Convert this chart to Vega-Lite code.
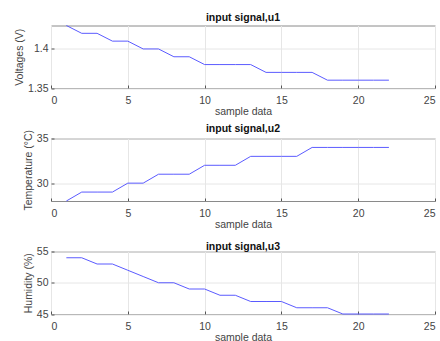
{
  "$schema": "https://vega.github.io/schema/vega-lite/v6.json",
  "background": "white",
  "padding": {"left": 14, "top": 11.5, "right": 6, "bottom": 0},
  "bounds": "flush",
  "spacing": 50,
  "config": {
    "font": "Liberation Sans",
    "view": {"stroke": "#8a8a8a", "strokeWidth": 1},
    "title": {"fontSize": 10.5, "fontWeight": "bold", "color": "#111111", "anchor": "middle", "frame": "group"},
    "axis": {
      "labelFont": "Liberation Sans",
      "labelFontSize": 10.5,
      "labelColor": "#444444",
      "titleFont": "Liberation Sans",
      "titleFontSize": 10.5,
      "titleFontWeight": "normal",
      "titleColor": "#444444",
      "domain": false,
      "tickColor": "#555555",
      "tickSize": -3,
      "gridColor": "#e6e6e6",
      "gridWidth": 1
    },
    "axisX": {"labelPadding": 10, "titlePadding": 0.5},
    "axisY": {"labelPadding": 6, "titlePadding": 3}
  },
  "datasets": {
    "signals": [
      {"x": 1, "u1": 1.43, "u2": 28, "u3": 54},
      {"x": 2, "u1": 1.42, "u2": 29, "u3": 54},
      {"x": 3, "u1": 1.42, "u2": 29, "u3": 53},
      {"x": 4, "u1": 1.41, "u2": 29, "u3": 53},
      {"x": 5, "u1": 1.41, "u2": 30, "u3": 52},
      {"x": 6, "u1": 1.40, "u2": 30, "u3": 51},
      {"x": 7, "u1": 1.40, "u2": 31, "u3": 50},
      {"x": 8, "u1": 1.39, "u2": 31, "u3": 50},
      {"x": 9, "u1": 1.39, "u2": 31, "u3": 49},
      {"x": 10, "u1": 1.38, "u2": 32, "u3": 49},
      {"x": 11, "u1": 1.38, "u2": 32, "u3": 48},
      {"x": 12, "u1": 1.38, "u2": 32, "u3": 48},
      {"x": 13, "u1": 1.38, "u2": 33, "u3": 47},
      {"x": 14, "u1": 1.37, "u2": 33, "u3": 47},
      {"x": 15, "u1": 1.37, "u2": 33, "u3": 47},
      {"x": 16, "u1": 1.37, "u2": 33, "u3": 46},
      {"x": 17, "u1": 1.37, "u2": 34, "u3": 46},
      {"x": 18, "u1": 1.36, "u2": 34, "u3": 46},
      {"x": 19, "u1": 1.36, "u2": 34, "u3": 45},
      {"x": 20, "u1": 1.36, "u2": 34, "u3": 45},
      {"x": 21, "u1": 1.36, "u2": 34, "u3": 45},
      {"x": 22, "u1": 1.36, "u2": 34, "u3": 45}
    ]
  },
  "vconcat": [
    {
      "title": {"text": "input signal,u1", "offset": 0.5},
      "width": 384,
      "height": 62.5,
      "data": {"name": "signals"},
      "mark": {"type": "line", "color": "#5b5bff", "strokeWidth": 1},
      "encoding": {
        "x": {"field": "x", "type": "quantitative", "title": "sample data",
              "scale": {"domain": [0, 25], "nice": false},
              "axis": {"values": [0, 5, 10, 15, 20, 25]}},
        "y": {"field": "u1", "type": "quantitative", "title": "Voltages (V)",
              "scale": {"domain": [1.35, 1.43], "nice": false, "zero": false},
              "axis": {"values": [1.35, 1.4], "format": "~g"}}
      }
    },
    {
      "title": {"text": "input signal,u2", "offset": -5.5},
      "width": 384,
      "height": 62.5,
      "data": {"name": "signals"},
      "mark": {"type": "line", "color": "#5b5bff", "strokeWidth": 1},
      "encoding": {
        "x": {"field": "x", "type": "quantitative", "title": "sample data",
              "scale": {"domain": [0, 25], "nice": false},
              "axis": {"values": [0, 5, 10, 15, 20, 25]}},
        "y": {"field": "u2", "type": "quantitative", "title": "Temperature (°C)",
              "scale": {"domain": [28, 35], "nice": false, "zero": false},
              "axis": {"values": [30, 35]}}
      }
    },
    {
      "title": {"text": "input signal,u3", "offset": -5.5},
      "width": 384,
      "height": 62.5,
      "data": {"name": "signals"},
      "mark": {"type": "line", "color": "#5b5bff", "strokeWidth": 1},
      "encoding": {
        "x": {"field": "x", "type": "quantitative", "title": "sample data",
              "scale": {"domain": [0, 25], "nice": false},
              "axis": {"values": [0, 5, 10, 15, 20, 25]}},
        "y": {"field": "u3", "type": "quantitative", "title": "Humidity (%)",
              "scale": {"domain": [45, 55], "nice": false, "zero": false},
              "axis": {"values": [45, 50, 55]}}
      }
    }
  ]
}
